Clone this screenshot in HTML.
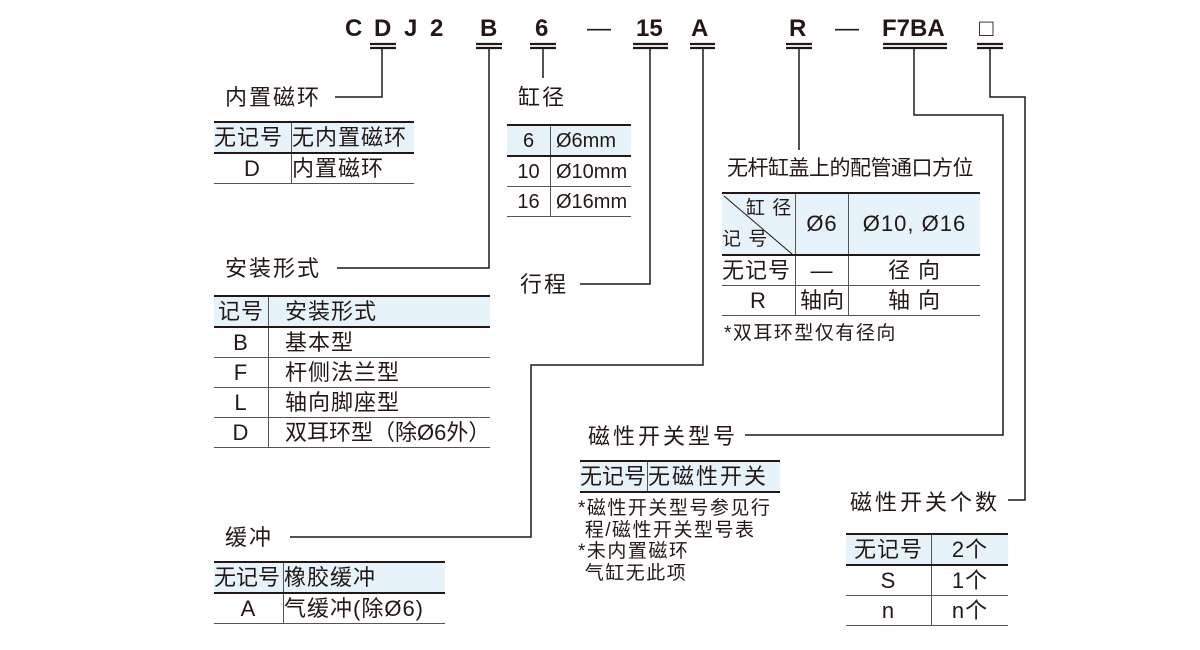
<!DOCTYPE html>
<html><head><meta charset="utf-8"><style>
body{margin:0;background:#fff;}
#c{position:relative;width:1200px;height:650px;overflow:hidden;font-family:"Liberation Sans","Noto Sans CJK SC",sans-serif;color:#231815;}
.t{position:absolute;white-space:nowrap;font-size:22px;line-height:26px;letter-spacing:2px;}
.h{position:absolute;font-weight:bold;font-size:24px;line-height:26px;top:16px;}
table{position:absolute;border-collapse:collapse;font-size:22px;letter-spacing:1px;table-layout:fixed;}
td{padding:0;line-height:28px;height:29px;border-bottom:1.5px solid #555;white-space:nowrap;overflow:hidden;}
tr:first-child td{border-top:2.5px solid #231815;}
tr.b td{background:#e6f3fb;border-bottom:2.5px solid #231815;}
td.d{border-right:1.5px solid #555;}
.c{text-align:center;}
.n{position:absolute;font-size:19px;line-height:21.5px;white-space:nowrap;letter-spacing:1.5px;}
</style></head><body><div id="c">
<svg width="1200" height="650" style="position:absolute;left:0;top:0" fill="none" stroke="#231815" stroke-width="1.5">
<g stroke-width="2.2">
<path d="M370 44H396M370 48H396"/><path d="M476 44H502M476 48H502"/><path d="M530 44H556M530 48H556"/>
<path d="M633 44H668M633 48H668"/><path d="M690 44H715M690 48H715"/><path d="M786 44H812M786 48H812"/>
<path d="M883 44H947M883 48H947"/><path d="M977 44H1003M977 48H1003"/>
</g>
<path d="M382 48V97H335"/>
<path d="M489 48V268H337"/>
<path d="M543 48V78"/>
<path d="M650 48V284H580"/>
<path d="M703 48V365H531V537H290"/>
<path d="M799 48V150"/>
<path d="M914 48V115H1003V435H745"/>
<path d="M990 48V97H1025V500H1008"/>
</svg>
<div class="h" style="left:345px">C</div>
<div class="h" style="left:374px">D</div>
<div class="h" style="left:404px">J</div>
<div class="h" style="left:430px">2</div>
<div class="h" style="left:480px">B</div>
<div class="h" style="left:535px">6</div>
<div class="h" style="left:587px;font-weight:normal">—</div>
<div class="h" style="left:636px">15</div>
<div class="h" style="left:691px">A</div>
<div class="h" style="left:789px">R</div>
<div class="h" style="left:835px;font-weight:normal">—</div>
<div class="h" style="left:882px">F7BA</div>
<div class="h" style="left:979px;font-weight:normal">□</div>

<div class="t" style="left:225px;top:85px">内置磁环</div>
<table style="left:214px;top:121px;width:200px">
<tr class="b"><td class="d" style="width:77px">无记号</td><td>无内置磁环</td></tr>
<tr><td class="d c">D</td><td>内置磁环</td></tr></table>

<div class="t" style="left:518px;top:85px">缸径</div>
<table style="left:507px;top:124px;width:124px;font-size:20px;letter-spacing:0">
<tr class="b"><td class="d c" style="width:43px">6</td><td style="padding-left:5px">Ø6mm</td></tr>
<tr><td class="d c">10</td><td style="padding-left:5px">Ø10mm</td></tr>
<tr><td class="d c">16</td><td style="padding-left:5px">Ø16mm</td></tr></table>

<div class="t" style="left:225px;top:256px">安装形式</div>
<table style="left:214px;top:295px;width:276px">
<tr class="b"><td class="d c" style="width:54px">记号</td><td style="padding-left:16px">安装形式</td></tr>
<tr><td class="d c">B</td><td style="padding-left:16px">基本型</td></tr>
<tr><td class="d c">F</td><td style="padding-left:16px">杆侧法兰型</td></tr>
<tr><td class="d c">L</td><td style="padding-left:16px">轴向脚座型</td></tr>
<tr><td class="d c">D</td><td style="letter-spacing:0;padding-left:16px">双耳环型（除Ø6外）</td></tr></table>

<div class="t" style="left:520px;top:272px">行程</div>

<div class="t" style="left:225px;top:525px">缓冲</div>
<table style="left:214px;top:561px;width:231px">
<tr class="b"><td class="d" style="width:69px;letter-spacing:0">无记号</td><td>橡胶缓冲</td></tr>
<tr><td class="d c">A</td><td>气缓冲(除Ø6)</td></tr></table>

<div class="t" style="left:727px;top:156px;letter-spacing:-0.5px;font-size:21px">无杆缸盖上的配管通口方位</div>
<table style="left:722px;top:192px;width:258px">
<tr class="b"><td class="d" style="width:73px;height:60px;position:relative"><svg width="73" height="60" style="position:absolute;left:0;top:0"><line x1="2" y1="2" x2="70" y2="60" stroke="#231815" stroke-width="1"/></svg><span style="position:absolute;left:24px;top:1px;font-size:19px">缸 径</span><span style="position:absolute;left:0;top:32px;font-size:19px">记 号</span></td><td class="d c" style="width:52px">Ø6</td><td class="c">Ø10, Ø16</td></tr>
<tr><td class="d">无记号</td><td class="d c">—</td><td class="c">径 向</td></tr>
<tr><td class="d c">R</td><td class="d c" style="letter-spacing:0">轴向</td><td class="c">轴 向</td></tr></table>
<div class="n" style="left:724px;top:323px">*双耳环型仅有径向</div>

<div class="t" style="left:588px;top:424px;letter-spacing:3px">磁性开关型号</div>
<table style="left:580px;top:460px;width:200px">
<tr class="b"><td class="d" style="width:67px;letter-spacing:0">无记号</td><td style="letter-spacing:2px">无磁性开关</td></tr></table>
<div class="n" style="left:578px;top:498px">*磁性开关型号参见行<br>&nbsp;程/磁性开关型号表<br>*未内置磁环<br>&nbsp;气缸无此项</div>

<div class="t" style="left:850px;top:490px;letter-spacing:3px">磁性开关个数</div>
<table style="left:846px;top:533px;width:162px">
<tr class="b"><td class="d c" style="width:85px">无记号</td><td class="c">2个</td></tr>
<tr><td class="d c">S</td><td class="c">1个</td></tr>
<tr><td class="d c">n</td><td class="c">n个</td></tr></table>
</div></body></html>
